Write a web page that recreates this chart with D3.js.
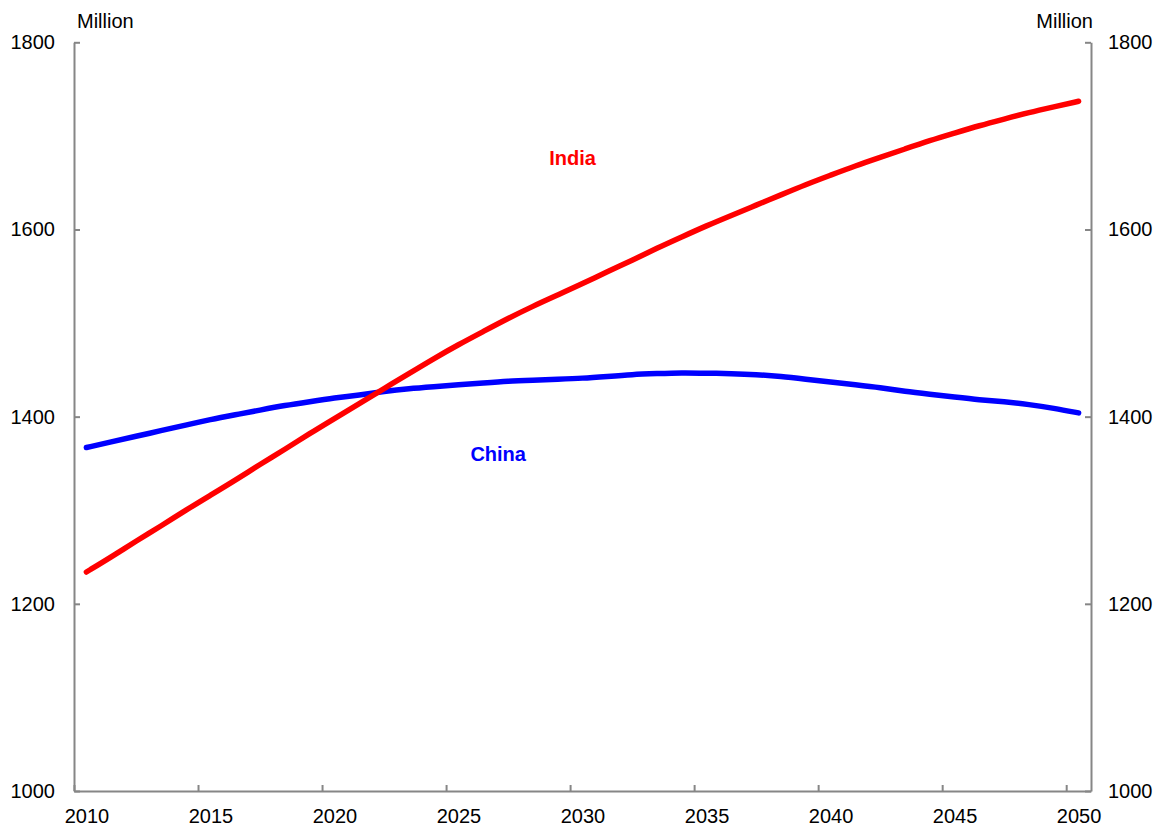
<!DOCTYPE html>
<html>
<head>
<meta charset="utf-8">
<script src="https://cdn.jsdelivr.net/npm/d3@7"></script>
<style>
  html, body { margin: 0; padding: 0; background: #fff; }
  svg { display: block; font-family: "Liberation Sans", Arial, sans-serif; }
</style>
</head>
<body>
<svg id="chart" width="1163" height="827"></svg>
<script>
const years = d3.range(2010, 2051);
const india = [1234, 1250, 1267, 1283, 1300, 1316, 1332, 1349, 1365, 1382,
               1398, 1414, 1430, 1446, 1462, 1477, 1491, 1505, 1518, 1530,
               1542, 1555, 1567, 1580, 1592, 1604, 1615, 1626, 1637, 1648,
               1658, 1668, 1677, 1686, 1695, 1703, 1711, 1718, 1725, 1731, 1737];
const china = [1367, 1373, 1379, 1385, 1391, 1397, 1402, 1407, 1412, 1416,
               1420, 1423, 1427, 1430, 1432, 1434, 1436, 1438, 1439, 1440,
               1441, 1443, 1445, 1446, 1447, 1446.5, 1446, 1445, 1443, 1440,
               1437, 1434, 1431, 1427, 1424, 1421, 1418, 1416, 1413, 1409, 1404];
const yTicks = [1000, 1200, 1400, 1600, 1800];
const xLabelYears = [2010, 2015, 2020, 2025, 2030, 2035, 2040, 2045, 2050];
const unitLabel = "Million";
const seriesLabels = [
  {name: "India", year: 2029.6, value: 1669, color: "#ff0000"},
  {name: "China", year: 2026.6, value: 1352.5, color: "#0000ff"}
];

(function () {
const svg = d3.select("#chart");
const mLeft = 74, mRight = 1091, mTop = 42.3, mBottom = 791;

const x = d3.scaleLinear().domain([2009.5, 2050.5]).range([mLeft, mRight]);
const y = d3.scaleLinear().domain([1000, 1800]).range([mBottom, mTop]);

const axisColor = "#868686";
const fontSize = 20;

function styleAxis(g) {
  g.selectAll("path, line").attr("stroke", axisColor).attr("stroke-width", 2);
  g.selectAll("text").attr("fill", "#000").style("font-size", fontSize + "px")
    .style("font-family", '"Liberation Sans", Arial, sans-serif');
}

// Left axis
svg.append("g").attr("transform", `translate(${mLeft},0)`)
  .call(d3.axisLeft(y).tickValues(yTicks).tickSizeInner(-6).tickSizeOuter(0).tickPadding(19).tickFormat(d3.format("d")))
  .call(styleAxis);

// Right axis
svg.append("g").attr("transform", `translate(${mRight},0)`)
  .call(d3.axisRight(y).tickValues(yTicks).tickSizeInner(-6).tickSizeOuter(0).tickPadding(17).tickFormat(d3.format("d")))
  .call(styleAxis);

// Bottom axis: tick marks at category boundaries
const boundaries = xLabelYears.map(d => d - 0.5);
svg.append("g").attr("transform", `translate(0,${mBottom})`)
  .call(d3.axisBottom(x).tickValues(boundaries).tickSizeInner(-6).tickSizeOuter(0).tickFormat(""))
  .call(styleAxis);

// Bottom labels at category centres
svg.append("g").attr("transform", `translate(0,${mBottom})`)
  .call(d3.axisBottom(x).tickValues(xLabelYears).tickSize(0).tickPadding(18).tickFormat(d3.format("d")))
  .call(styleAxis)
  .call(g => g.select(".domain").remove());

// Unit labels
svg.append("text").attr("x", mLeft + 3).attr("y", 28)
  .style("font-size", fontSize + "px").attr("fill", "#000").text(unitLabel);
svg.append("text").attr("x", mRight + 2).attr("y", 28).attr("text-anchor", "end")
  .style("font-size", fontSize + "px").attr("fill", "#000").text(unitLabel);

// Lines
const line = d3.line().x((d, i) => x(years[i])).y(d => y(d)).curve(d3.curveBasis);

svg.append("path").datum(china)
  .attr("d", line).attr("fill", "none").attr("stroke", "#0000ff")
  .attr("stroke-width", 5.5).attr("stroke-linecap", "round").attr("stroke-linejoin", "round");

svg.append("path").datum(india)
  .attr("d", line).attr("fill", "none").attr("stroke", "#ff0000")
  .attr("stroke-width", 5.5).attr("stroke-linecap", "round").attr("stroke-linejoin", "round");

// Series labels
svg.selectAll(".slabel").data(seriesLabels).enter().append("text")
  .attr("class", "slabel")
  .attr("x", d => x(d.year)).attr("y", d => y(d.value))
  .attr("text-anchor", "middle")
  .style("font-size", fontSize + "px").style("font-weight", "bold")
  .attr("fill", d => d.color).text(d => d.name);
})();
</script>
</body>
</html>
